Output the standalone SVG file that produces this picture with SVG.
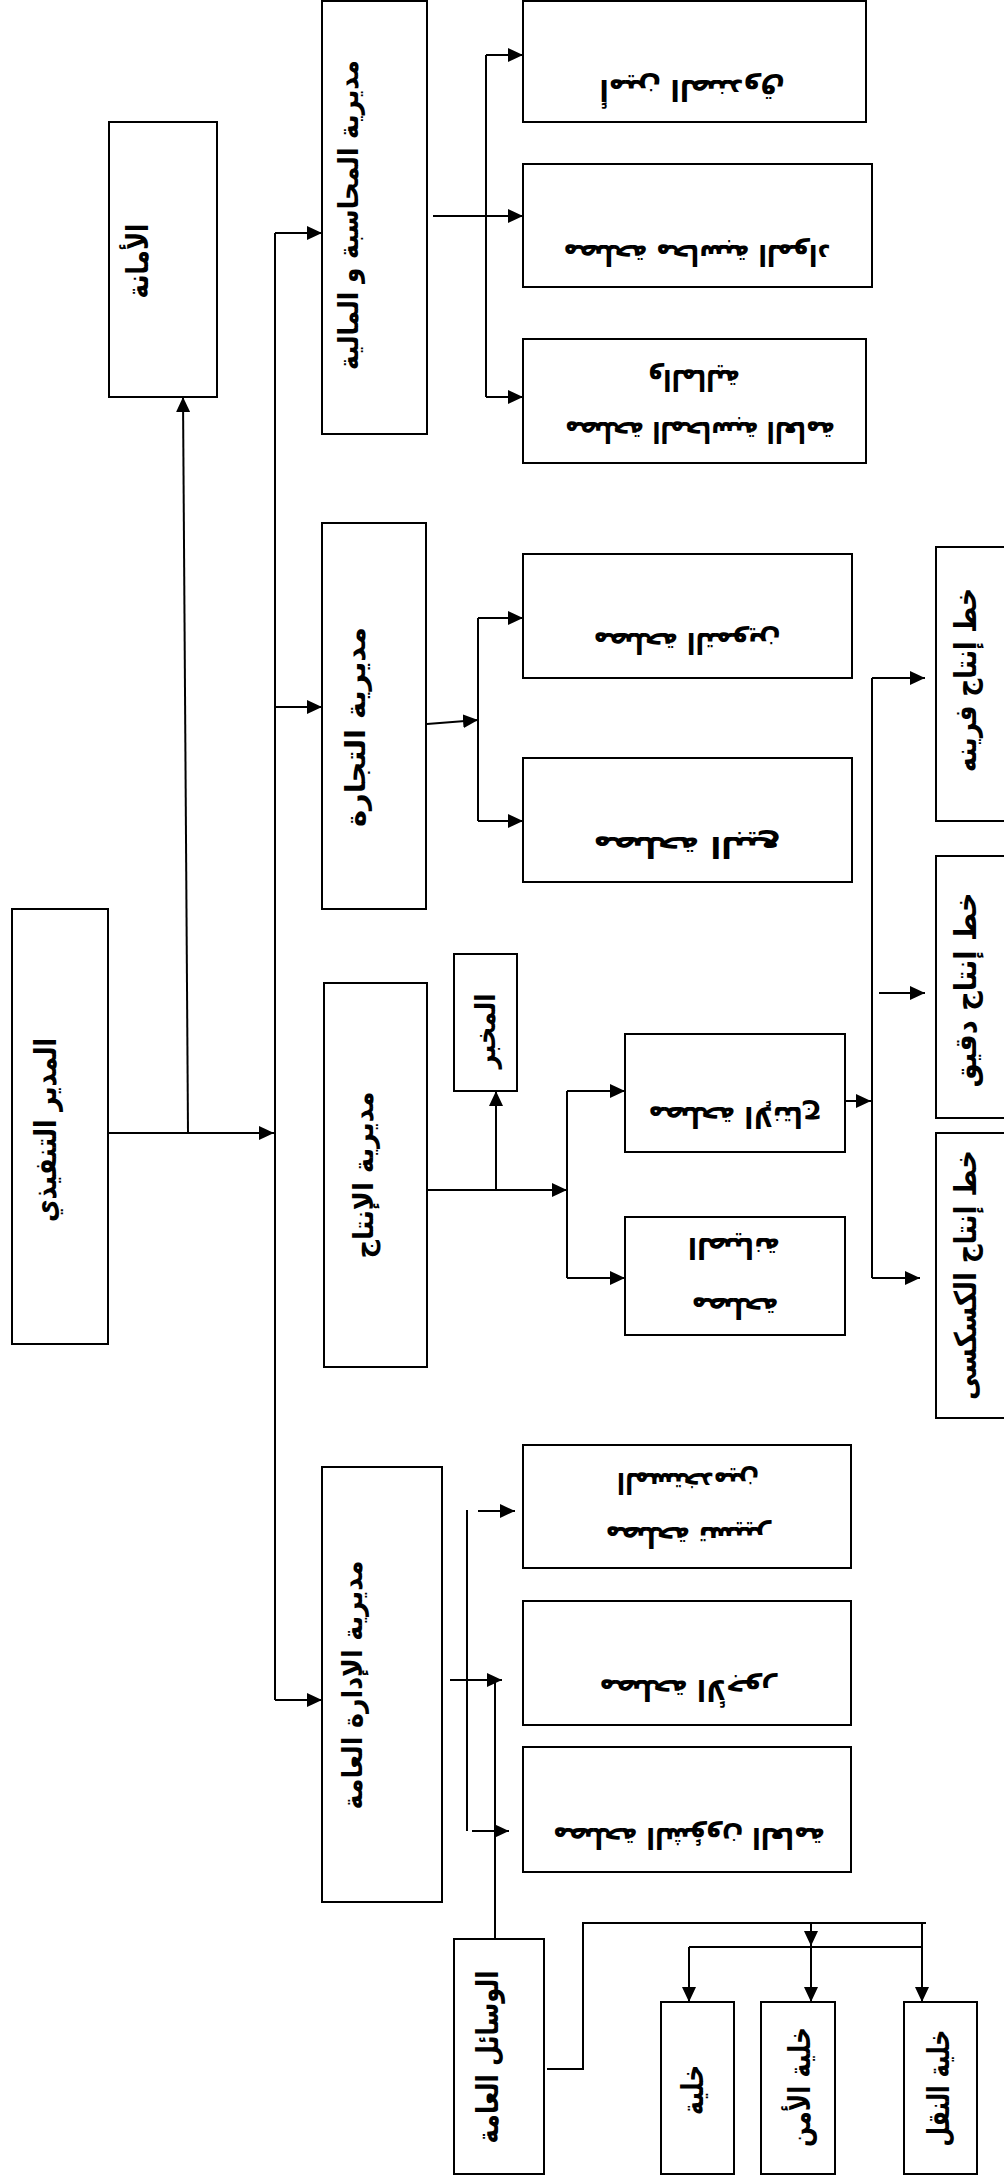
<svg xmlns="http://www.w3.org/2000/svg" width="1004" height="2183" viewBox="0 0 1004 2183">
<style>
rect.b{fill:#fff;stroke:#000;stroke-width:2}
text{font-family:'DejaVu Sans',sans-serif;font-weight:bold;fill:#000;text-anchor:middle;dominant-baseline:central}
.v{font-size:28px}
.l{font-size:30px}
.s{font-size:29px}
#conn path{fill:none;stroke:#000;stroke-width:2}
</style>
<defs>
<marker id="ah" markerUnits="userSpaceOnUse" markerWidth="16" markerHeight="14" refX="15" refY="7" orient="auto">
<path d="M0,0 L15,7 L0,14 z" fill="#000"/>
</marker>
</defs>
<rect width="1004" height="2183" fill="#fff"/>

<g id="conn">
<path d="M275,233 V1700"/>
<path d="M275,233 H322" marker-end="url(#ah)"/>
<path d="M275,707 H322" marker-end="url(#ah)"/>
<path d="M275,1700 H322" marker-end="url(#ah)"/>
<path d="M105,1133 H274" marker-end="url(#ah)"/>
<path d="M188,1133 L183,397" marker-end="url(#ah)"/>
<path d="M433,216 H486"/>
<path d="M486,55 V397"/>
<path d="M486,55 H523" marker-end="url(#ah)"/>
<path d="M486,216 H523" marker-end="url(#ah)"/>
<path d="M486,397 H523" marker-end="url(#ah)"/>
<path d="M427,724 L478,720" marker-end="url(#ah)"/>
<path d="M478,618 V821"/>
<path d="M478,618 H523" marker-end="url(#ah)"/>
<path d="M478,821 H523" marker-end="url(#ah)"/>
<path d="M427,1190 H567" marker-end="url(#ah)"/>
<path d="M496,1190 V1091" marker-end="url(#ah)"/>
<path d="M567,1091 V1278"/>
<path d="M567,1091 H625" marker-end="url(#ah)"/>
<path d="M567,1278 H625" marker-end="url(#ah)"/>
<path d="M840,1101 H871" marker-end="url(#ah)"/>
<path d="M872,678 V1278"/>
<path d="M872,678 H925" marker-end="url(#ah)"/>
<path d="M879,993 H925" marker-end="url(#ah)"/>
<path d="M872,1278 H920" marker-end="url(#ah)"/>
<path d="M467,1510 V1831"/>
<path d="M478,1511 H515" marker-end="url(#ah)"/>
<path d="M450,1680 H502" marker-end="url(#ah)"/>
<path d="M472,1831 H509" marker-end="url(#ah)"/>
<path d="M495,1680 V1939"/>
<path d="M547,2069 H583 V1923 H926"/>
<path d="M811,1923 V1946" marker-end="url(#ah)"/>
<path d="M689,1947 H922"/>
<path d="M689,1947 V2002" marker-end="url(#ah)"/>
<path d="M811,1947 V2002" marker-end="url(#ah)"/>
<path d="M922,1923 V2002" marker-end="url(#ah)"/>
</g>

<g id="secretariat"><rect class="b" x="109" y="122" width="108" height="275"/>
<text class="l" x="137" y="261" transform="rotate(-90 137 261)" textLength="75" lengthAdjust="spacingAndGlyphs">الأمانة</text></g>

<g id="dir-accounting"><rect class="b" x="322" y="1" width="105" height="433"/>
<text class="v" x="348" y="215" transform="rotate(-90 348 215)" textLength="310" lengthAdjust="spacingAndGlyphs">مديرية المحاسبة و المالية</text></g>

<g id="a1"><rect class="b" x="523" y="1" width="343" height="121"/>
<text class="s" x="692" y="90" transform="rotate(180 692 90)" textLength="185" lengthAdjust="spacingAndGlyphs">أمين الصندوق</text></g>
<g id="a2"><rect class="b" x="523" y="164" width="349" height="123"/>
<text class="s" x="697" y="255" transform="rotate(180 697 255)" textLength="267" lengthAdjust="spacingAndGlyphs">مصلحة محاسبة المواد</text></g>
<g id="a3"><rect class="b" x="523" y="339" width="343" height="124"/>
<text class="s" x="700" y="432" transform="rotate(180 700 432)" textLength="270" lengthAdjust="spacingAndGlyphs">مصلحة المحاسبة العامة</text>
<text class="s" x="694" y="380" transform="rotate(180 694 380)" textLength="92" lengthAdjust="spacingAndGlyphs">والمالية</text></g>

<g id="dir-commerce"><rect class="b" x="322" y="523" width="104" height="386"/>
<text class="v" x="355" y="727" transform="rotate(-90 355 727)" textLength="200" lengthAdjust="spacingAndGlyphs">مديرية التجارة</text></g>
<g id="c1"><rect class="b" x="523" y="554" width="329" height="124"/>
<text class="s" x="687" y="643" transform="rotate(180 687 643)" textLength="187" lengthAdjust="spacingAndGlyphs">مصلحة التموين</text></g>
<g id="c2"><rect class="b" x="523" y="758" width="329" height="124"/>
<text class="s" x="687" y="847" transform="rotate(180 687 847)" textLength="187" lengthAdjust="spacingAndGlyphs">مصلحة البيع</text></g>

<g id="director"><rect class="b" x="12" y="909" width="96" height="435"/>
<text class="l" x="45" y="1130" transform="rotate(-90 45 1130)" textLength="184" lengthAdjust="spacingAndGlyphs">المدير التنفيذي</text></g>

<g id="dir-production"><rect class="b" x="324" y="983" width="103" height="384"/>
<text class="v" x="363" y="1175" transform="rotate(-90 363 1175)" textLength="167" lengthAdjust="spacingAndGlyphs">مديرية الإنتاج</text></g>
<g id="lab"><rect class="b" x="454" y="954" width="63" height="137"/>
<text class="v" x="485" y="1031" transform="rotate(-90 485 1031)" textLength="75" lengthAdjust="spacingAndGlyphs">المخبر</text></g>
<g id="p1"><rect class="b" x="625" y="1034" width="220" height="118"/>
<text class="s" x="735" y="1117" transform="rotate(180 735 1117)" textLength="173" lengthAdjust="spacingAndGlyphs">مصلحة الإنتاج</text></g>
<g id="p2"><rect class="b" x="625" y="1217" width="220" height="118"/>
<text class="s" x="735" y="1308" transform="rotate(180 735 1308)" textLength="87" lengthAdjust="spacingAndGlyphs">مصلحة</text>
<text class="s" x="734" y="1248" transform="rotate(180 734 1248)" textLength="92" lengthAdjust="spacingAndGlyphs">الصيانة</text></g>

<g id="line-flour"><rect class="b" x="936" y="547" width="80" height="274"/>
<text class="l" x="965" y="680" transform="rotate(-90 965 680)" textLength="184" lengthAdjust="spacingAndGlyphs">خط إنتاج فرينه</text></g>
<g id="line-semolina"><rect class="b" x="936" y="856" width="80" height="262"/>
<text class="l" x="965" y="990" transform="rotate(-90 965 990)" textLength="195" lengthAdjust="spacingAndGlyphs">خط إنتاج دقيق</text></g>
<g id="line-couscous"><rect class="b" x="936" y="1133" width="80" height="285"/>
<text class="l" x="965" y="1275" transform="rotate(-90 965 1275)" textLength="250" lengthAdjust="spacingAndGlyphs">خط إنتاج الكسكسى</text></g>

<g id="dir-admin"><rect class="b" x="322" y="1467" width="120" height="435"/>
<text class="v" x="352" y="1685" transform="rotate(-90 352 1685)" textLength="249" lengthAdjust="spacingAndGlyphs">مديرية الإدارة العامة</text></g>
<g id="g1"><rect class="b" x="523" y="1445" width="328" height="123"/>
<text class="s" x="688" y="1537" transform="rotate(180 688 1537)" textLength="165" lengthAdjust="spacingAndGlyphs">مصلحة تسيير</text>
<text class="s" x="688" y="1483" transform="rotate(180 688 1483)" textLength="142" lengthAdjust="spacingAndGlyphs">المستخدمين</text></g>
<g id="g2"><rect class="b" x="523" y="1601" width="328" height="124"/>
<text class="s" x="688" y="1690" transform="rotate(180 688 1690)" textLength="177" lengthAdjust="spacingAndGlyphs">مصلحة الأجور</text></g>
<g id="g3"><rect class="b" x="523" y="1747" width="328" height="125"/>
<text class="s" x="689" y="1838" transform="rotate(180 689 1838)" textLength="272" lengthAdjust="spacingAndGlyphs">مصلحة الشؤون العامة</text></g>

<g id="general-means"><rect class="b" x="454" y="1939" width="90" height="235"/>
<text class="l" x="487" y="2057" transform="rotate(-90 487 2057)" textLength="173" lengthAdjust="spacingAndGlyphs">الوسائل العامة</text></g>
<g id="cell"><rect class="b" x="661" y="2002" width="73" height="172"/>
<text class="l" x="692" y="2090" transform="rotate(-90 692 2090)" textLength="50" lengthAdjust="spacingAndGlyphs">خلية</text></g>
<g id="cell-security"><rect class="b" x="761" y="2002" width="74" height="172"/>
<text class="l" x="799" y="2087" transform="rotate(-90 799 2087)" textLength="120" lengthAdjust="spacingAndGlyphs">خلية الأمن</text></g>
<g id="cell-transport"><rect class="b" x="904" y="2002" width="73" height="172"/>
<text class="l" x="938" y="2088" transform="rotate(-90 938 2088)" textLength="117" lengthAdjust="spacingAndGlyphs">خلية النقل</text></g>
</svg>
